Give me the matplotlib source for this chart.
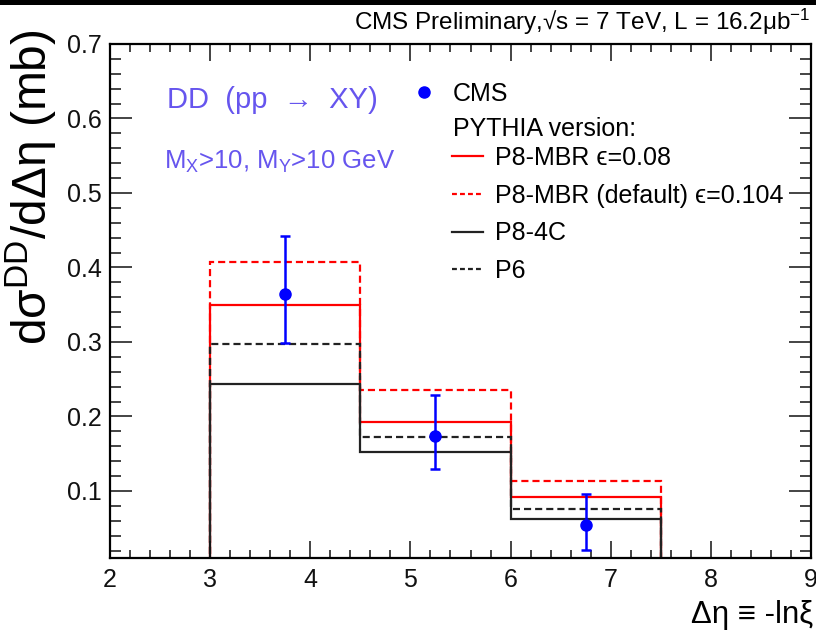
import numpy as np
import matplotlib
matplotlib.use('Agg')
import matplotlib.pyplot as plt
from matplotlib.lines import Line2D
from matplotlib.patches import Rectangle
from matplotlib.ticker import MultipleLocator

plt.rcParams['font.family'] = ['Liberation Sans', 'DejaVu Sans']
plt.rcParams['mathtext.fontset'] = 'custom'
plt.rcParams['mathtext.rm'] = 'Liberation Sans'
plt.rcParams['mathtext.it'] = 'Liberation Sans'
plt.rcParams['mathtext.default'] = 'rm'

# bin edges in delta eta and the MC predictions (mb)
edges = [3.0, 4.5, 6.0, 7.5]
p8_mbr_008 = [0.350, 0.192, 0.092]
p8_mbr_0104 = [0.407, 0.235, 0.113]
p8_4c = [0.243, 0.152, 0.063]
p6 = [0.297, 0.173, 0.076]

# CMS data points
cms_x = [3.75, 5.25, 6.75]
cms_y = [0.364, 0.174, 0.054]
cms_err_lo = [0.065, 0.044, 0.033]
cms_err_hi = [0.078, 0.055, 0.042]

labels = ['P8-MBR \u03f5=0.08', 'P8-MBR (default) \u03f5=0.104', 'P8-4C', 'P6']

red = '#ff0000'
dash = (0, (3.2, 1.8))
txt_col = '#6655ee'

fig = plt.figure(figsize=(8.16, 6.34), dpi=100)
ax = fig.add_axes([0.1348, 0.1199, 0.8591, 0.8107])

# histograms, drawn so the black ones end up on top
ax.stairs(p8_mbr_0104, edges, baseline=0, color=red, lw=1.6, ls=dash)
ax.stairs(p8_mbr_008, edges, baseline=0, color=red, lw=1.6)
ax.stairs(p6, edges, baseline=0, color='#222222', lw=1.6, ls=dash)
ax.stairs(p8_4c, edges, baseline=0, color='#222222', lw=1.6)

ax.errorbar(cms_x, cms_y, yerr=[cms_err_lo, cms_err_hi], fmt='o', color='blue',
            ms=8, elinewidth=1.8, capsize=3.5, capthick=1.8, zorder=5)

ax.set_xlim(2, 9)
ax.set_ylim(0.01, 0.7)
ax.xaxis.set_major_locator(MultipleLocator(1))
ax.xaxis.set_minor_locator(MultipleLocator(0.2))
ax.yaxis.set_major_locator(MultipleLocator(0.1))
ax.yaxis.set_minor_locator(MultipleLocator(0.02))
ax.set_yticks([0.1, 0.2, 0.3, 0.4, 0.5, 0.6, 0.7])
ax.set_yticklabels(['0.1', '0.2', '0.3', '0.4', '0.5', '0.6', '0.7'])

ax.tick_params(which='both', direction='in', top=True, right=True, width=1.1,
               labelsize=18, colors='#111111')
ax.tick_params(axis='x', which='major', length=12, pad=7)
ax.tick_params(axis='x', which='minor', length=6)
ax.tick_params(axis='y', which='major', length=16, pad=6)
ax.tick_params(axis='y', which='minor', length=8)
for s in ax.spines.values():
    s.set_linewidth(1.6)

# labels
fig.text(0.997, 0.0174, '\u0394\u03b7 \u2261 -ln\u03be', ha='right', va='baseline', fontsize=22.5)
fig.text(0.038, 0.953, 'd\u03c3$^{DD}$/d\u0394\u03b7 (mb)', rotation=90,
         ha='center', va='top', fontsize=34.5)
fig.text(0.993, 0.9527, 'CMS Preliminary,\u221as = 7 TeV, L = 16.2\u03bcb$^{-1}$',
         ha='right', va='baseline', fontsize=17.5)
fig.add_artist(Rectangle((0, 1 - 5 / 634), 1, 5 / 634, transform=fig.transFigure,
                         color='black', lw=0))

ax.text(0.231, 0.891, 'DD  (pp  \u2192  XY)', transform=ax.transAxes, ha='center',
        va='center', fontsize=21, color=txt_col)
ax.text(0.2425, 0.770, 'M$_X$>10, M$_Y$>10 GeV', transform=ax.transAxes, ha='center',
        va='center', fontsize=18.5, color=txt_col)

# legends
h1 = [Line2D([], [], marker='o', color='blue', ls='none', ms=8),
      Line2D([], [], ls='none')]
leg1 = ax.legend(h1, ['CMS', 'PYTHIA version:'], loc='upper left',
                 bbox_to_anchor=(0.430, 0.927), frameon=False, fontsize=18,
                 handlelength=1.0, handletextpad=0.66, labelspacing=0.45,
                 borderpad=0, borderaxespad=0)
ax.add_artist(leg1)

h2 = [Line2D([], [], color=red, lw=1.6),
      Line2D([], [], color=red, lw=1.6, ls=(0, (2.2, 1.4))),
      Line2D([], [], color='#222222', lw=1.6),
      Line2D([], [], color='#222222', lw=1.6, ls=(0, (2.2, 1.4)))]
ax.legend(h2, labels, loc='upper left', bbox_to_anchor=(0.488, 0.8016),
          frameon=False, fontsize=18, handlelength=1.24, handletextpad=0.48,
          labelspacing=0.55, borderpad=0, borderaxespad=0)

fig.savefig('out.png', dpi=100)
